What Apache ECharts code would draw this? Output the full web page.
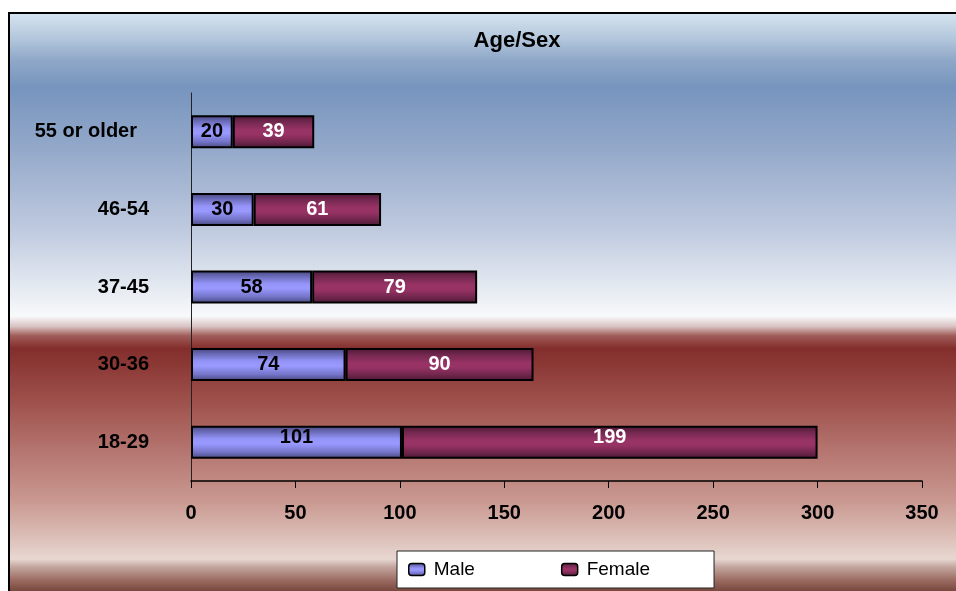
<!DOCTYPE html>
<html>
<head>
<meta charset="utf-8">
<script src="https://cdn.jsdelivr.net/npm/echarts@6/dist/echarts.min.js"></script>
<style>html,body{margin:0;padding:0;background:#fff;}#c{width:956px;height:591px;}</style>
</head>
<body>
<div id="c"></div>
<script>
var categories = ['18-29', '30-36', '37-45', '46-54', '55 or older'];
var maleValues = [101, 74, 58, 30, 20];
var femaleValues = [199, 90, 79, 61, 39];
var seriesNames = ['Male', 'Female'];
var titleText = 'Age/Sex';

var chart = echarts.init(document.getElementById('c'), null, {renderer: 'canvas'});
var FF = 'Liberation Sans, Arial, sans-serif';

function vgrad(stops) {
  return new echarts.graphic.LinearGradient(0, 0, 0, 1, stops.map(function (s) { return {offset: s[0], color: s[1]}; }));
}

var bgGrad = vgrad([
  [0.0, '#d7e5f0'], [0.046, '#b2c6db'], [0.08, '#90a9c9'], [0.127, '#7694bd'],
  [0.232, '#94a9ca'], [0.368, '#bfcadf'], [0.469, '#e6ebf2'], [0.514, '#f8f9fb'],
  [0.531, '#d9c3c3'], [0.547, '#a05c59'], [0.568, '#832e2c'], [0.656, '#9e504b'],
  [0.741, '#b57570'], [0.825, '#c99890'], [0.876, '#d8b8b0'], [0.924, '#e8d7d1'],
  [0.937, '#c4a7a0'], [0.961, '#99685e'], [0.985, '#6b3b30'], [1, '#6b3b30']
]);

var maleGrad = vgrad([[0, '#45457a'], [0.18, '#6a6ab8'], [0.4, '#9494f8'], [0.55, '#9999ff'], [0.8, '#7474c8'], [1, '#45457a']]);
var femaleGrad = vgrad([[0, '#4a1832'], [0.2, '#73284f'], [0.45, '#993366'], [0.6, '#963264'], [0.82, '#6e264b'], [1, '#4a1832']]);

function mkData(arr) {
  return arr.map(function (v, i) {
    if (i === 0) return {value: v, label: {offset: [0, -5]}};
    return v;
  });
}

var option = {
  animation: false,
  graphic: [{
    type: 'rect', z: -10, silent: true,
    shape: {x: 9, y: 13, width: 980, height: 590},
    style: {fill: bgGrad, stroke: '#000', lineWidth: 2}
  }],
  title: {
    text: titleText, left: 517, top: 30, textAlign: 'center', padding: 0,
    textStyle: {fontFamily: FF, fontSize: 22, fontWeight: 'bold', color: '#000'}
  },
  legend: {
    data: seriesNames,
    left: 397, top: 551,
    padding: [9, 64, 9, 11],
    itemWidth: 16, itemHeight: 12, itemGap: 86,
    backgroundColor: '#fff', borderColor: '#222', borderWidth: 1,
    textStyle: {fontFamily: FF, fontSize: 19, color: '#000', padding: [0, 0, 0, 4]},
    itemStyle: {borderColor: '#000', borderWidth: 1.5}
  },
  grid: {left: 191, right: 34, top: 93, bottom: 110, containLabel: false},
  xAxis: {
    type: 'value', min: 0, max: 350, interval: 50,
    axisLine: {show: true, lineStyle: {color: '#000', width: 1.5}},
    axisTick: {show: true, length: 7, lineStyle: {color: '#000', width: 1}},
    splitLine: {show: false},
    axisLabel: {margin: 22, fontFamily: FF, fontSize: 20, fontWeight: 'bold', color: '#000'}
  },
  yAxis: {
    type: 'category', data: categories,
    axisLine: {show: true, lineStyle: {color: '#222', width: 1}},
    axisTick: {show: false},
    axisLabel: {
      margin: 42, fontFamily: FF, fontSize: 20, fontWeight: 'bold', color: '#000',
      formatter: function (v) { return v === '55 or older' ? '{s|' + v + '}' : v; },
      rich: {s: {fontFamily: FF, fontSize: 20, fontWeight: 'bold', color: '#000', padding: [0, 12, 0, 0]}}
    }
  },
  series: [
    {
      name: seriesNames[0], type: 'bar', stack: 'a', barWidth: 33,
      data: mkData(maleValues),
      itemStyle: {color: maleGrad, borderColor: '#000', borderWidth: 2},
      label: {show: true, position: 'inside', color: '#000', fontFamily: FF, fontSize: 20, fontWeight: 'bold'}
    },
    {
      name: seriesNames[1], type: 'bar', stack: 'a', barWidth: 33,
      data: mkData(femaleValues),
      itemStyle: {color: femaleGrad, borderColor: '#000', borderWidth: 2},
      label: {show: true, position: 'inside', color: '#fff', fontFamily: FF, fontSize: 20, fontWeight: 'bold'}
    }
  ]
};
chart.setOption(option);
</script>
</body>
</html>
